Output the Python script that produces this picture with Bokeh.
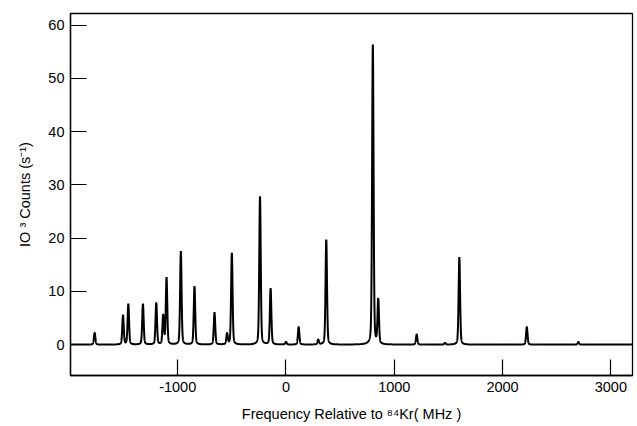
import numpy as np
from bokeh.plotting import figure
from bokeh.models import Range1d, FixedTicker, ColumnDataSource
from bokeh.embed import file_html
from bokeh.resources import INLINE

# Peak positions (MHz relative to 84Kr) and heights (10^3 counts/s)
peak_freq = [-1767, -1505, -1456, -1321, -1198, -1134, -1103, -971, -845, -660,
             -544, -500, -240, -142, 0, 117, 298, 372, 802, 852,
             1207, 1468, 1601, 2224, 2700]
peak_height = [2.2, 5.5, 7.6, 7.6, 7.8, 5.4, 12.5, 17.5, 10.9, 6.0,
               2.0, 17.2, 27.8, 10.5, 0.5, 3.3, 0.9, 19.7, 56.3, 8.3,
               1.9, 0.3, 16.4, 3.3, 0.5]
fwhm = 16.0   # instrumental line width (MHz)
eta = 0.3     # Lorentzian fraction of the (pseudo-Voigt) line shape

x_ticks = [-1000, 0, 1000, 2000, 3000]
x_tick_labels = ["-1000", "0", "1000", "2000", "3000"]
y_ticks = [0, 10, 20, 30, 40, 50, 60]

# Spectrum: sum of pseudo-Voigt lines at the measured peaks
freq = np.arange(-1990, 3200.5, 0.5)
g = fwhm / 2.0
sigma = fwhm / 2.3548
counts = np.zeros_like(freq)
for f0, h in zip(peak_freq, peak_height):
    d = freq - f0
    lor = g**2 / (d**2 + g**2)
    gau = np.exp(-d**2 / (2 * sigma**2))
    counts += h * (eta * lor + (1 - eta) * gau)

src = ColumnDataSource(dict(x=freq, y=counts))

FONT = "Liberation Sans"

p = figure(width=636, height=426, output_backend="svg", toolbar_location=None,
           x_range=Range1d(-1990, 3200), y_range=Range1d(-5.8, 62.2),
           min_border_left=70, min_border_right=4, min_border_top=13, min_border_bottom=51)
p.line("x", "y", source=src, line_color="black", line_width=2)

p.grid.visible = False
p.outline_line_color = "black"
p.outline_line_width = 1.3
p.background_fill_color = "white"
p.border_fill_color = "white"

for ax in (p.xaxis[0], p.yaxis[0]):
    ax.major_tick_in = 16
    ax.major_tick_out = 0
    ax.minor_tick_line_color = None
    ax.axis_line_color = "black"
    ax.axis_line_width = 1.3
    ax.major_tick_line_color = "black"
    ax.major_tick_line_width = 1.2
    ax.major_label_text_font = FONT
    ax.major_label_text_font_size = "14.5px"
    ax.major_label_text_color = "black"
    ax.axis_label_text_font = FONT
    ax.axis_label_text_font_size = "14.5px"
    ax.axis_label_text_font_style = "normal"
    ax.axis_label_text_color = "black"

p.xaxis[0].ticker = FixedTicker(ticks=x_ticks)
p.xaxis[0].major_label_overrides = {t: s for t, s in zip(x_ticks, x_tick_labels)}
p.yaxis[0].ticker = FixedTicker(ticks=y_ticks)
p.xaxis[0].major_label_standoff = 6
p.yaxis[0].major_label_standoff = 6
p.xaxis[0].axis_label = "Frequency Relative to \u2078\u2074Kr( MHz )"
p.xaxis[0].axis_label_standoff = 11
p.yaxis[0].axis_label = "IO \u00b3 Counts (s\u207b\u00b9)"
p.yaxis[0].axis_label_standoff = 12

open("out.html", "w").write(file_html(p, INLINE))
